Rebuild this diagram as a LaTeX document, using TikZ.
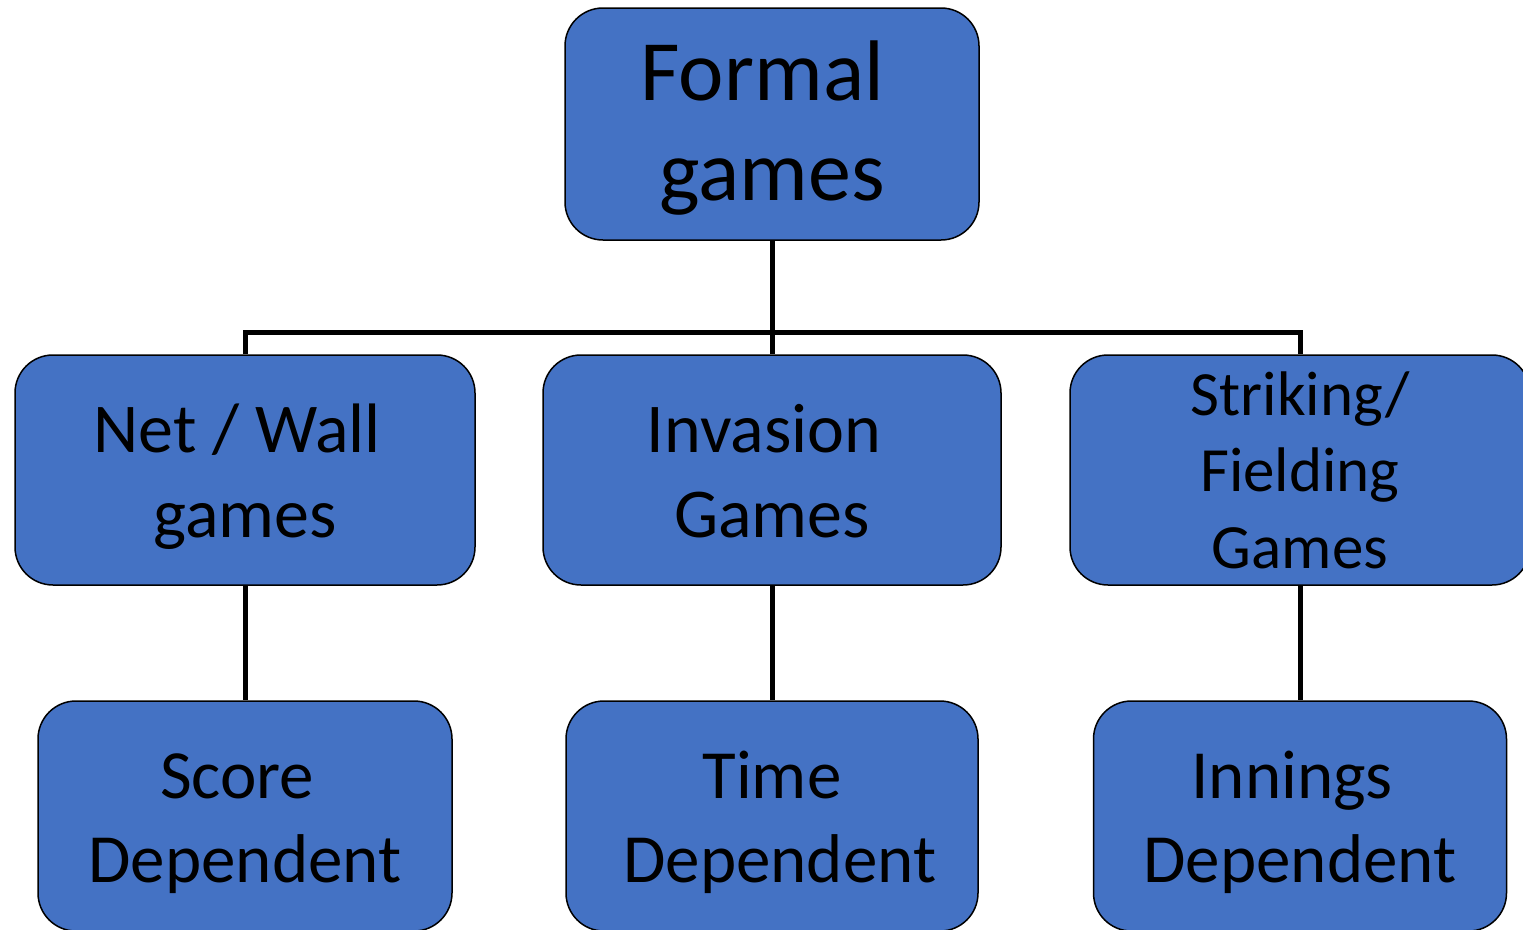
\documentclass[tikz,border=0pt]{standalone}
\usepackage{fontspec}
\setmainfont{Carlito}
\definecolor{boxblue}{HTML}{4472C4}
\newcommand\trailsp{\ \mbox{}}
\begin{document}
\begin{tikzpicture}[x=1pt,y=-1pt,
  box/.style={draw=black, line width=1.5pt, fill=boxblue, rounded corners=38pt, inner sep=0pt},
  conn/.style={draw=black, line width=5pt, line join=miter},
  lbl/.style={anchor=base, inner sep=0pt, text=black},
  big/.style={font=\fontsize{86}{100}\selectfont},
  mid/.style={font=\fontsize{70}{85}\selectfont},
  low/.style={font=\fontsize{69}{84}\selectfont},
  small/.style={font=\fontsize{63}{76.5}\selectfont}]
\clip (0,0) rectangle (1523,929);
% boxes
\node[box, minimum width=414pt, minimum height=232pt] (formal) at (772,124) {};
\node[box, minimum width=460pt, minimum height=230pt] (netwall) at (245,470) {};
\node[box, minimum width=458pt, minimum height=230pt] (invasion) at (772,470) {};
\node[box, minimum width=460pt, minimum height=230pt] (striking) at (1300,470) {};
\node[box, minimum width=414pt, minimum height=230pt] (score) at (245,816) {};
\node[box, minimum width=412pt, minimum height=230pt] (time) at (772,816) {};
\node[box, minimum width=413pt, minimum height=230pt] (innings) at (1300,816) {};
% connectors
\coordinate (bus) at (772,332);
\draw[conn] (formal.south) -- (invasion.north);
\draw[conn] (netwall.north) |- (bus) -| (striking.north);
\draw[conn] (netwall.south) -- (score.north);
\draw[conn] (invasion.south) -- (time.north);
\draw[conn] (striking.south) -- (innings.north);
% labels
\node[lbl, big] (tformal) at (772,100) {\begin{tabular}[t]{@{}c@{}}Formal\trailsp\\games\end{tabular}};
\node[lbl, mid] (tnetwall) at (245,452) {\begin{tabular}[t]{@{}c@{}}Net / Wall\trailsp\\games\end{tabular}};
\node[lbl, mid] (tinvasion) at (772,452) {\begin{tabular}[t]{@{}c@{}}Invasion\trailsp\\Games\end{tabular}};
\node[lbl, small] (tstriking) at (1300,415) {\begin{tabular}[t]{@{}c@{}}Striking/\\Fielding\\Games\end{tabular}};
\node[lbl, low] (tscore) at (245,798) {\begin{tabular}[t]{@{}c@{}}Score\trailsp\\Dependent\end{tabular}};
\node[lbl, low] (ttime) at (772,798) {\begin{tabular}[t]{@{}c@{}}Time\\\ Dependent\end{tabular}};
\node[lbl, low] (tinnings) at (1300,798) {\begin{tabular}[t]{@{}c@{}}Innings\trailsp\\Dependent\end{tabular}};
\end{tikzpicture}
\end{document}
